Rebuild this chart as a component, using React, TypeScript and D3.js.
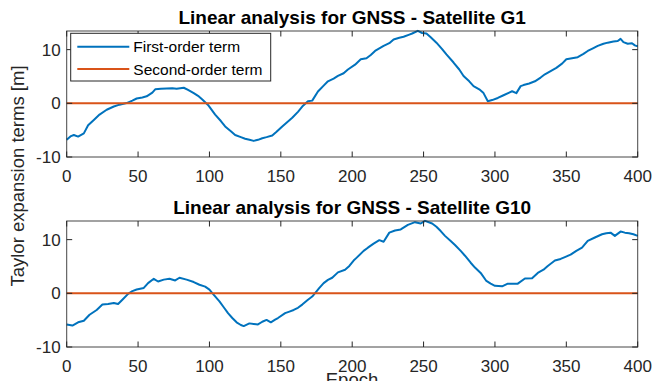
import React from "react";
import * as d3 from "d3";

const g1Epochs = [0,3,5,8,12,15,19,23,28,33,37,42,46,49,53,56,60,62,66,70,74,77,82,85,89,92,95,99,104,108,111,115,118,122,125,128,131,134,137,140,144,147,151,154,158,162,165,169,172,176,180,183,187,190,194,197,202,206,210,213,216,222,226,229,233,236,240,242,246,249,252,255,259,263,266,271,275,278,282,285,289,292,295,298,302,306,310,312,315,318,320,324,328,332,335,339,343,347,350,354,358,362,365,369,372,376,379,383,386,388,390,393,396,398,400];
const g1Values = [-6.8,-6.1,-5.9,-6.2,-5.6,-4.1,-3.1,-2.1,-1.2,-0.6,-0.25,0.05,0.5,0.9,1.1,1.3,2.0,2.6,2.7,2.75,2.8,2.7,2.9,2.5,1.9,1.4,0.7,-0.3,-2.1,-3.3,-4.3,-5.2,-5.9,-6.3,-6.6,-6.8,-7.0,-6.8,-6.5,-6.3,-6.0,-5.3,-4.3,-3.6,-2.7,-1.6,-0.6,0.4,0.5,2.2,3.3,4.1,4.6,5.1,5.6,6.3,7.2,8.2,8.4,9.0,9.75,10.7,11.2,11.9,12.2,12.4,12.8,13.0,13.5,13.1,13.0,12.3,11.3,10.1,9.1,7.6,6.3,5.1,4.1,3.2,2.6,1.9,0.4,0.6,1.0,1.5,2.0,2.25,1.9,3.2,3.4,3.7,4.1,4.8,5.4,6.0,6.6,7.4,8.2,8.4,8.6,9.2,9.75,10.3,10.7,11.1,11.3,11.5,11.6,12.0,11.4,11.1,11.2,10.8,10.6];

const g10Epochs = [0,4,8,12,16,21,25,29,33,36,39,43,46,49,54,57,61,64,68,72,76,79,84,89,93,97,100,102,107,110,113,116,119,122,124,128,131,134,137,140,143,146,148,153,156,159,162,165,169,172,174,177,180,183,186,190,195,198,201,203,208,211,215,219,222,226,230,234,239,244,248,251,256,259,262,265,269,272,276,279,283,286,290,294,297,300,305,309,316,321,326,330,334,337,342,346,349,353,357,361,365,370,375,378,381,384,388,391,394,397,400];
const g10Values = [-5.8,-6.0,-5.4,-5.1,-4.0,-3.1,-2.1,-2.0,-1.8,-2.0,-1.2,-0.1,0.4,0.7,1.0,1.9,2.7,2.2,2.55,2.7,2.4,2.9,2.55,2.1,1.6,1.25,0.7,0.05,-1.5,-2.6,-3.7,-4.6,-5.4,-5.9,-6.1,-5.6,-5.7,-5.8,-5.3,-4.95,-5.4,-4.9,-4.6,-3.7,-3.4,-3.1,-2.7,-2.1,-1.2,-0.6,0.05,1.0,1.9,2.5,2.9,3.9,4.4,5.1,6.1,6.6,7.9,8.5,9.25,9.9,9.6,11.3,11.7,11.9,12.75,13.25,13.0,13.5,13.0,12.4,11.6,10.7,9.75,9.0,7.9,7.0,5.7,4.8,3.8,2.3,1.8,1.4,1.3,1.8,1.8,2.75,2.8,3.8,4.4,5.1,6.1,6.4,6.75,7.2,7.9,8.5,9.75,10.4,11.0,11.2,11.3,10.7,11.5,11.3,11.2,11.0,10.7];

const secondOrderValue = 0;
const xTicks = [0, 50, 100, 150, 200, 250, 300, 350, 400];
const yTicks = [-10, 0, 10];
const titles = ["Linear analysis for GNSS - Satellite G1", "Linear analysis for GNSS - Satellite G10"];
const legendLabels = ["First-order term", "Second-order term"];

const BLUE = "#0072BD";
const ORANGE = "#D95319";
const AX = "#262626";
const FONT = "'Liberation Sans', Arial, Helvetica, sans-serif";

const X0 = 66.7, X1 = 637.7;
const panels = [
  { top: 31, bottom: 157, ep: g1Epochs, val: g1Values, title: titles[0], legend: true },
  { top: 221, bottom: 347, ep: g10Epochs, val: g10Values, title: titles[1], legend: false },
];

function Panel({ p }: { p: typeof panels[0] }) {
  const x = d3.scaleLinear().domain([0, 400]).range([X0, X1]);
  const y = d3.scaleLinear().domain([-10, 13.47]).range([p.bottom, p.top]);
  const pts: [number, number][] = p.ep.map((e, i) => [e, p.val[i]]);
  const line = d3.line<[number, number]>().x(d => x(d[0])).y(d => y(d[1]));
  const flat = d3.line<number>().x(d => x(d)).y(() => y(secondOrderValue));
  const tl = 5.5;
  const cx = (X0 + X1) / 2;
  return (
    <g>
      <rect x={X0} y={p.top} width={X1 - X0} height={p.bottom - p.top} fill="white" />
      <path d={line(pts) || ""} fill="none" stroke={BLUE} strokeWidth={2} strokeLinejoin="round" />
      <path d={flat([0, 400]) || ""} fill="none" stroke={ORANGE} strokeWidth={2} />
      <rect x={X0} y={p.top} width={X1 - X0} height={p.bottom - p.top} fill="none" stroke={AX} strokeWidth={1} strokeOpacity={0.85} />
      {xTicks.map(t => (
        <g key={"x" + t}>
          <line x1={x(t)} x2={x(t)} y1={p.bottom} y2={p.bottom - tl} stroke={AX} />
          <line x1={x(t)} x2={x(t)} y1={p.top} y2={p.top + tl} stroke={AX} />
          <text x={x(t)} y={p.bottom + 24.5} textAnchor="middle" fontSize={17} fill={AX} fontFamily={FONT}>{t}</text>
        </g>
      ))}
      {yTicks.map(t => (
        <g key={"y" + t}>
          <line x1={X0} x2={X0 + tl} y1={y(t)} y2={y(t)} stroke={AX} />
          <line x1={X1} x2={X1 - tl} y1={y(t)} y2={y(t)} stroke={AX} />
          <text x={X0 - 6} y={y(t) + 6} textAnchor="end" fontSize={17} fill={AX} fontFamily={FONT}>{t}</text>
        </g>
      ))}
      <text x={cx} y={p.top - 7.5} textAnchor="middle" fontSize={19} fontWeight="bold" fill="#000" fontFamily={FONT}>{p.title}</text>
      {p.legend && (
        <g>
          <rect x={70.7} y={33.3} width={200} height={47.7} fill="white" stroke={AX} strokeWidth={1} />
          <line x1={77.3} x2={129.3} y1={46.7} y2={46.7} stroke={BLUE} strokeWidth={2} />
          <line x1={77.3} x2={129.3} y1={69} y2={69} stroke={ORANGE} strokeWidth={2} />
          <text x={133.3} y={52.3} fontSize={15.5} fill="#000" fontFamily={FONT}>{legendLabels[0]}</text>
          <text x={133.3} y={74.6} fontSize={15.5} fill="#000" fontFamily={FONT}>{legendLabels[1]}</text>
        </g>
      )}
    </g>
  );
}

export default function App() {
  return (
    <svg width={652} height={381} style={{ position: "absolute", left: 0, top: 0, background: "white" }}>
      <rect width={652} height={381} fill="white" />
      {panels.map((p, i) => <Panel key={i} p={p} />)}
      <text transform="translate(24,176) rotate(-90)" textAnchor="middle" fontSize={18.5} fill={AX} fontFamily={FONT}>Taylor expansion terms [m]</text>
      <text x={352} y={386} textAnchor="middle" fontSize={18.5} fill={AX} fontFamily={FONT}>Epoch</text>
    </svg>
  );
}
